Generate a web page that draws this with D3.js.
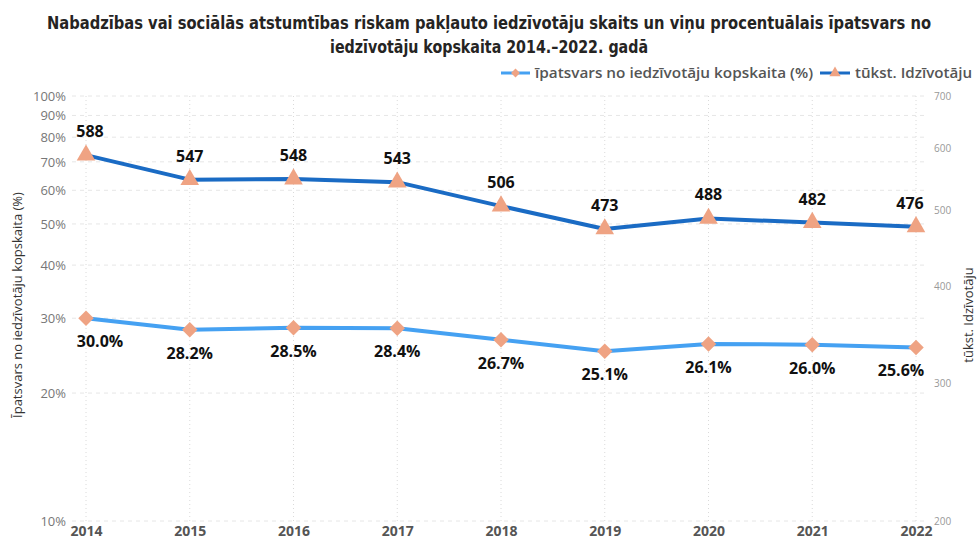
<!DOCTYPE html>
<html><head><meta charset="utf-8">
<script src="https://cdn.jsdelivr.net/npm/d3@7"></script>
<style>body{margin:0;background:#fff}svg{display:block}</style>
</head><body><svg id="c" width="979" height="540"></svg>
<script>
const years = ["2014","2015","2016","2017","2018","2019","2020","2021","2022"];
const pctValues = [30.0, 28.2, 28.5, 28.4, 26.7, 25.1, 26.1, 26.0, 25.6];
const countValues = [588, 547, 548, 543, 506, 473, 488, 482, 476];
const leftTicks = [10,20,30,40,50,60,70,80,90,100];
const rightTicks = [200,300,400,500,600,700];
const titleLines = ["Nabadzības vai sociālās atstumtības riskam pakļauto iedzīvotāju skaits un viņu procentuālais īpatsvars no","iedzīvotāju kopskaita 2014.–2022. gadā"];
const legendLabels = ["īpatsvars no iedzīvotāju kopskaita (%)","tūkst. Idzīvotāju"];
const leftTitle = "Īpatsvars no iedzīvotāju kopskaita (%)";
const rightTitle = "tūkst. Idzīvotāju";

const svg = d3.select("#c");
const plotTop = 96, plotBottom = 521;
const x = d3.scalePoint().domain(years).range([86, 916]);
const yL = d3.scaleLog().domain([10,100]).range([plotBottom, plotTop]);
const yR = d3.scaleLog().domain([200,700]).range([plotBottom, plotTop]);
const lightBlue = "#45A1F2", darkBlue = "#1A6BC4", marker = "#EFA383";
const font = "'Open Sans','Noto Sans',sans-serif";
const condFont = "'DejaVu Sans Condensed','Liberation Sans Narrow','Roboto',sans-serif";
const last = years.length - 1;

function fit(el, target){
  const w = el.node().getComputedTextLength();
  if (Math.abs(w-target) > 3) el.attr("textLength",target).attr("lengthAdjust","spacingAndGlyphs");
}

// title
titleLines.forEach((t,i)=>{
  const el = svg.append("text").attr("x",489).attr("y",29+i*24).attr("text-anchor","middle")
    .attr("font-family",condFont).attr("font-weight","bold").attr("font-size",17).attr("fill","#252423").text(t);
  fit(el, i===0 ? 884 : 318);
});

// gridlines
const g = svg.append("g");
g.selectAll("line.h").data(leftTicks).join("line")
  .attr("x1",72).attr("x2",928).attr("y1",d=>yL(d)).attr("y2",d=>yL(d))
  .attr("stroke","#e6e6e6").attr("stroke-dasharray","4,4").attr("stroke-width",1);
g.selectAll("line.v").data(years).join("line")
  .attr("x1",d=>x(d)).attr("x2",d=>x(d)).attr("y1",plotTop).attr("y2",plotBottom)
  .attr("stroke","#dadada").attr("stroke-dasharray","1,3").attr("stroke-width",1);

// left axis
const axL = svg.append("g").attr("transform","translate(66,0)")
  .call(d3.axisLeft(yL).tickValues(leftTicks).tickFormat(d=>d+"%").tickSize(0).tickPadding(0));
axL.select(".domain").remove();
axL.selectAll("text").attr("font-family",font).attr("font-size",13).attr("fill","#777");

// right axis
const axR = svg.append("g").attr("transform","translate(934,0)")
  .call(d3.axisRight(yR).tickValues(rightTicks).tickFormat(d3.format("d")).tickSize(0).tickPadding(0));
axR.select(".domain").remove();
axR.selectAll("text").attr("font-family",font).attr("font-size",10).attr("fill","#999");

// x axis
const axX = svg.append("g").attr("transform","translate(0,524)")
  .call(d3.axisBottom(x).tickSize(0).tickPadding(0));
axX.select(".domain").remove();
axX.selectAll("text").attr("font-family",font).attr("font-size",14).attr("font-weight","bold").attr("fill","#555").attr("dy","0.85em");

// axis titles
svg.append("text").attr("transform","translate(22,305) rotate(-90)").attr("text-anchor","middle")
  .attr("font-family",font).attr("font-size",13).attr("fill","#333").text(leftTitle);
svg.append("text").attr("transform","translate(973,315) rotate(-90)").attr("text-anchor","middle")
  .attr("font-family",font).attr("font-size",13).attr("fill","#333").text(rightTitle);

// lines
const lineL = d3.line().x((d,i)=>x(years[i])).y(d=>yL(d));
const lineR = d3.line().x((d,i)=>x(years[i])).y(d=>yR(d));
svg.append("path").attr("d",lineL(pctValues)).attr("fill","none").attr("stroke",lightBlue).attr("stroke-width",4).attr("stroke-linejoin","round");
svg.append("path").attr("d",lineR(countValues)).attr("fill","none").attr("stroke",darkBlue).attr("stroke-width",4).attr("stroke-linejoin","round");

svg.selectAll("path.dm").data(pctValues).join("path")
  .attr("d",d3.symbol().type(d3.symbolSquare).size(120))
  .attr("transform",(d,i)=>`translate(${x(years[i])},${yL(d)}) rotate(45)`).attr("fill",marker);
svg.selectAll("path.tr").data(countValues).join("path")
  .attr("d",d3.symbol().type(d3.symbolTriangle).size(150))
  .attr("transform",(d,i)=>`translate(${x(years[i])},${yR(d)})`).attr("fill",marker);

// data labels (edge labels nudged inward as in the reference)
svg.selectAll("text.pl").data(pctValues).join("text")
  .attr("x",(d,i)=>x(years[i]) + (i===0 ? 14 : i===last ? -15 : 0)).attr("y",d=>yL(d)+29).attr("text-anchor","middle")
  .attr("font-family",font).attr("font-weight","bold").attr("font-size",16).attr("fill","#111")
  .text(d=>d.toFixed(1)+"%");
svg.selectAll("text.cl").data(countValues).join("text")
  .attr("x",(d,i)=>x(years[i]) + (i===0 ? 4 : i===last ? -6 : 0)).attr("y",d=>yR(d)-18).attr("text-anchor","middle")
  .attr("font-family",font).attr("font-weight","bold").attr("font-size",16).attr("fill","#111")
  .text(d=>d);

// legend
const lg = svg.append("g").attr("font-family",font).attr("font-size",14).attr("font-weight",600).attr("fill","#555");
const lt1 = lg.append("text").attr("x",535).attr("y",78).text(legendLabels[0]);
fit(lt1, 278);
lg.append("line").attr("x1",501).attr("x2",530).attr("y1",73).attr("y2",73).attr("stroke",lightBlue).attr("stroke-width",3);
lg.append("path").attr("d",d3.symbol().type(d3.symbolSquare).size(40)).attr("transform",`translate(515.5,73) rotate(45)`).attr("fill",marker);
const lt2 = lg.append("text").attr("x",855).attr("y",78).text(legendLabels[1]);
fit(lt2, 117);
lg.append("line").attr("x1",820).attr("x2",850).attr("y1",73).attr("y2",73).attr("stroke",darkBlue).attr("stroke-width",3);
lg.append("path").attr("d",d3.symbol().type(d3.symbolTriangle).size(55)).attr("transform",`translate(835,73)`).attr("fill",marker);
</script></body></html>
